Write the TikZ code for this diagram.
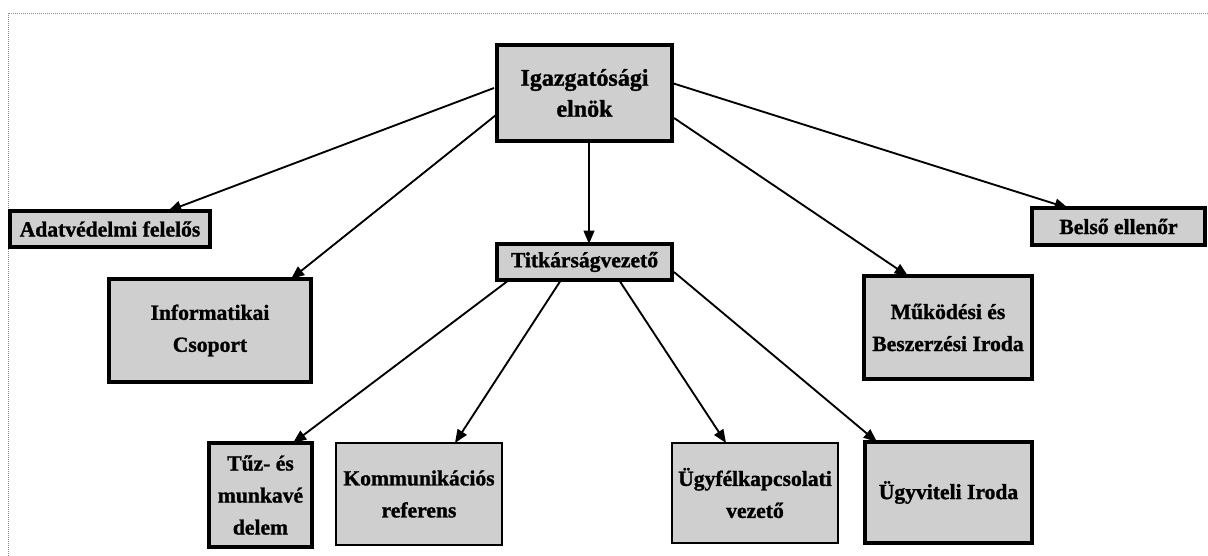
\documentclass[tikz,border=0pt]{standalone}
\usepackage{fontspec}
\setmainfont{Liberation Serif}[BoldFeatures={FakeBold=1.2}]
\usetikzlibrary{calc,arrows.meta}
\begin{document}
\begin{tikzpicture}[x=0.75pt,y=-0.75pt,
  box/.style={draw=black, line width=2.3pt, fill=black!19, inner sep=0pt, outer sep=0pt,
    align=center, font=\fontsize{16.2}{24}\selectfont\bfseries},
  thinbox/.style={box, line width=1.6pt},
  conn/.style={line width=1.4pt, -{Triangle[length=10pt,width=8pt]}}]
\useasboundingbox (0,0) rectangle (1208,556);
\draw[black!45, densely dotted, line width=0.5pt] (8,556) -- (8,13) -- (1208,13);

\node[box, minimum width=131.25pt, minimum height=72pt, font=\fontsize{18}{23.25}\selectfont\bfseries]
  (top) at (584.5,93) {Igazgatósági\\elnök};
\node[box, minimum width=150pt, minimum height=27pt] (adat) at (110,229) {Adatvédelmi felelős};
\node[box, minimum width=129.75pt, minimum height=27.75pt] (belso) at (1118.5,226.5) {Belső ellenőr};
\node[box, minimum width=131.25pt, minimum height=27pt] (titk) at (584.5,262) {Titkárságvezető};
\node[box, minimum width=151.5pt, minimum height=77.25pt] (info) at (210,330.5) {Informatikai\\Csoport};
\node[box, minimum width=126pt, minimum height=77.25pt] (mukod) at (948,327.5) {Működési és\\Beszerzési Iroda};
\node[box, minimum width=77.25pt, minimum height=78pt] (tuz) at (260.5,495) {Tűz- és\\munkavé\\delem};
\node[thinbox, minimum width=124.5pt, minimum height=76.5pt] (komm) at (419,494) {Kommunikációs\\referens};
\node[thinbox, minimum width=124.5pt, minimum height=75pt] (ugyfel) at (755,493) {Ügyfélkapcsolati\\vezető};
\node[box, minimum width=125.25pt, minimum height=75.75pt] (ugyvit) at (948.5,492.5) {Ügyviteli Iroda};

\draw[conn] ($(top.north west)+(-3,43)$) -- ($(adat.north west)+(158,0)$);
\draw[conn] ($(top.north west)+(-1,70)$) -- ($(info.north west)+(182,0)$);
\draw[conn] ($(top.south west)+(92,0)$) -- ($(titk.north west)+(92,0)$);
\draw[conn] ($(top.north east)+(0,38)$) -- ($(belso.north west)+(36,0)$);
\draw[conn] ($(top.north east)+(2,73)$) -- ($(mukod.north west)+(44,0)$);
\draw[conn] ($(titk.south west)+(12,0)$) -- ($(tuz.north west)+(84,0)$);
\draw[conn] ($(titk.south west)+(64,0)$) -- ($(komm.north west)+(119,0)$);
\draw[conn] ($(titk.south west)+(122,0)$) -- ($(ugyfel.north west)+(54,0)$);
\draw[conn] ($(titk.north east)+(2,28)$) -- ($(ugyvit.north west)+(12,0)$);
\end{tikzpicture}
\end{document}
